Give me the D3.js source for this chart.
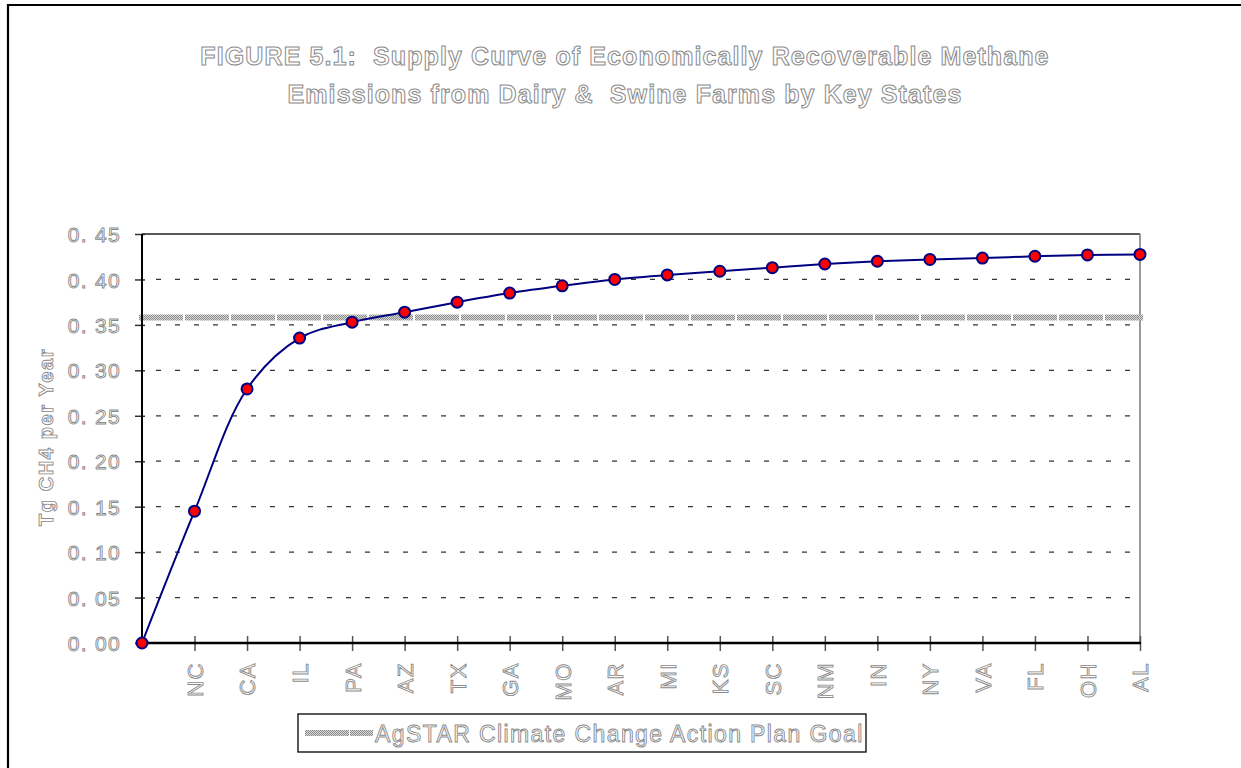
<!DOCTYPE html>
<html><head><meta charset="utf-8">
<script src="https://cdn.jsdelivr.net/npm/d3@7"></script>
<style>
html,body{margin:0;padding:0;background:#fff;}
svg{display:block;}
.ol{fill:#fff;stroke:#8a8a8a;stroke-width:0.9px;font-family:"Liberation Sans",Arial,sans-serif;white-space:pre;opacity:0.995;}
</style></head>
<body>
<script>
const categories = ["", "NC","CA","IL","PA","AZ","TX","GA","MO","AR","MI","KS","SC","NM","IN","NY","VA","FL","OH","AL"];
const values = [0, 0.145, 0.2795, 0.3355, 0.353, 0.364, 0.375, 0.385, 0.393, 0.400, 0.405, 0.409, 0.413, 0.417, 0.420, 0.422, 0.4235, 0.4255, 0.427, 0.4275];
const goal = 0.358;
const yTicks = [0,0.05,0.10,0.15,0.20,0.25,0.30,0.35,0.40,0.45];
const titleLines = ["FIGURE 5.1:  Supply Curve of Economically Recoverable Methane","Emissions from Dairy &  Swine Farms by Key States"];
const yTitle = "Tg CH4 per Year";
const legendLabel = "AgSTAR Climate Change Action Plan Goal";

const W=1241,H=768;
const svg=d3.select("body").append("svg").attr("width",W).attr("height",H);
const defs=svg.append("defs");
const pat=defs.append("pattern").attr("id","hatch").attr("patternUnits","userSpaceOnUse").attr("width",2).attr("height",2);
pat.append("rect").attr("width",2).attr("height",2).attr("fill","#d8d8d8");
pat.append("rect").attr("width",1).attr("height",1).attr("fill","#8c8c8c");
pat.append("rect").attr("x",1).attr("y",1).attr("width",1).attr("height",1).attr("fill","#8c8c8c");

// outer border
svg.append("path").attr("d","M8,768 V5 H1241").attr("fill","none").attr("stroke","#000").attr("stroke-width",2.2);

const L=142,R=1140,T=234,B=643;
const x=d3.scaleLinear().domain([0,categories.length-1]).range([L,R]);
const y=d3.scaleLinear().domain([0,0.45]).range([B,T]);

// gridlines
svg.append("g").selectAll("line").data(yTicks.filter(d=>d>0 && d<0.45)).join("line")
 .attr("x1",L).attr("x2",R).attr("y1",d=>y(d)).attr("y2",d=>y(d))
 .attr("stroke","#333").attr("stroke-width",1.3).attr("stroke-dasharray","5,14").attr("stroke-dashoffset",-14);
// top border & right border
svg.append("line").attr("x1",L).attr("x2",R).attr("y1",T).attr("y2",T).attr("stroke","#222").attr("stroke-width",1.3);
svg.append("line").attr("x1",R).attr("x2",R).attr("y1",T).attr("y2",B).attr("stroke","#777").attr("stroke-width",1.5);

// goal line
svg.append("line").attr("x1",L-3).attr("x2",R+3).attr("y1",y(goal)).attr("y2",y(goal))
 .attr("stroke","url(#hatch)").attr("stroke-width",6).attr("stroke-dasharray","44,2");

// y axis
const yAxis=d3.axisLeft(y).tickValues(yTicks).tickFormat(d=>d3.format(".2f")(d).replace(".",". ")).tickSize(7).tickPadding(14);
const gy=svg.append("g").attr("transform",`translate(${L},0)`).call(yAxis);
gy.select(".domain").remove();
gy.selectAll(".tick line").attr("stroke","#333").attr("stroke-width",1.5).attr("x2",-7).attr("x1",3);
gy.selectAll(".tick text").attr("class","ol").style("font-size","21px").style("letter-spacing","1.3px").attr("x",-21).attr("dy","0.36em");
svg.append("line").attr("x1",L).attr("x2",L).attr("y1",T).attr("y2",B+1).attr("stroke","#000").attr("stroke-width",2);

// x axis
const xAxis=d3.axisBottom(x).tickValues(d3.range(1,categories.length)).tickFormat(i=>categories[i]).tickSize(7);
const gx=svg.append("g").attr("transform",`translate(0,${B})`).call(xAxis);
gx.select(".domain").remove();
gx.selectAll(".tick line").attr("stroke","#555").attr("stroke-width",1.5).attr("y1",-7).attr("y2",8);
gx.selectAll(".tick text").attr("class","ol").style("font-size","22px").style("letter-spacing","1.5px")
 .attr("transform","rotate(-90)").attr("text-anchor","end").attr("x",-19).attr("y",0).attr("dy","0.36em");
svg.append("line").attr("x1",L-1).attr("x2",R+1).attr("y1",B).attr("y2",B).attr("stroke","#000").attr("stroke-width",2.5);

// curve
const line=d3.line().x((d,i)=>x(i)).y(d=>y(d)).curve(d3.curveCatmullRom.alpha(0.5));
svg.append("path").datum(values).attr("d",line).attr("fill","none").attr("stroke","#000080").attr("stroke-width",2);
svg.append("g").selectAll("circle").data(values).join("circle")
 .attr("cx",(d,i)=>x(i)).attr("cy",d=>y(d)).attr("r",5.5)
 .attr("fill","#ff0000").attr("stroke","#000080").attr("stroke-width",2);

// title
svg.append("g").selectAll("text").data(titleLines).join("text").attr("class","ol")
 .attr("x",625).attr("y",(d,i)=>65+i*38).attr("text-anchor","middle")
 .style("font-size","25px").style("font-weight","bold").style("letter-spacing","1.1px").style("stroke-width","1px").text(d=>d);

// y title
svg.append("text").attr("class","ol").attr("transform","translate(53,437) rotate(-90)")
 .attr("text-anchor","middle").style("font-size","20px").style("font-weight","bold").style("letter-spacing","1.6px").text(yTitle);

// legend
svg.append("rect").attr("x",298).attr("y",714).attr("width",568).attr("height",38)
 .attr("fill","#fff").attr("stroke","#000").attr("stroke-width",1.3);
svg.append("line").attr("x1",305).attr("x2",373).attr("y1",733).attr("y2",733)
 .attr("stroke","url(#hatch)").attr("stroke-width",6).attr("stroke-dasharray","44,1");
svg.append("text").attr("class","ol").attr("x",375).attr("y",742).style("font-size","23px").style("letter-spacing","1.4px").text(legendLabel);
</script>
</body></html>
